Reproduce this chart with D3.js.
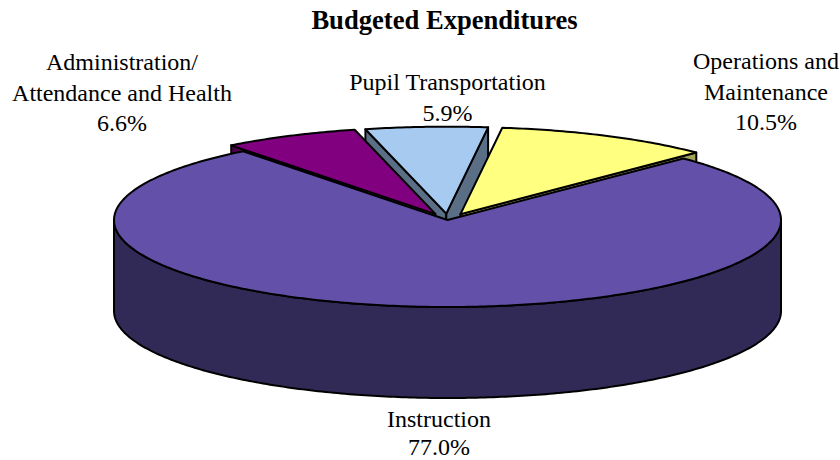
<!DOCTYPE html>
<html>
<head>
<meta charset="utf-8">
<script src="https://cdn.jsdelivr.net/npm/d3@7"></script>
<style>
  html, body { margin: 0; padding: 0; background: #fff; }
  text { font-family: "Liberation Serif", serif; fill: #000; }
</style>
</head>
<body>
<script>
'use strict';
// values
const categories = ["Instruction", "Administration/Attendance and Health", "Pupil Transportation", "Operations and Maintenance"];
const values = [77.0, 6.6, 5.9, 10.5];
const valueLabels = ["77.0%", "6.6%", "5.9%", "10.5%"];
const labelLines = [["Instruction"], ["Administration/", "Attendance and Health"], ["Pupil Transportation"], ["Operations and", "Maintenance"]];
const topColors = ["#6350a8", "#800080", "#a6caf0", "#ffff80"];
const sideColors = ["#322a56", "#4c004c", "#5a6e85", "#a3a35c"];
const titleText = "Budgeted Expenditures";

const width = 840, height = 460;
const cx = 448, cy = 218, rx = 333.5, ry = 87, depth = 91;
const explodeX = 0.085, explodeY = 0.05, explodeBig = 0.023;
// label centre x, first baseline, line spacing
const labelAnchors = [[439, 426.5, 28.5], [122, 70, 30.5], [447.5, 90, 30.5], [766, 69, 30.5]];

const svg = d3.select("body").append("svg")
    .attr("width", width)
    .attr("height", height)
    .style("display", "block");

const toRad = d3.scaleLinear().domain([0, 360]).range([0, 2 * Math.PI]);

const pie = d3.pie()
    .sort(null)
    .startAngle(toRad(45))
    .endAngle(toRad(405));

const slices = pie(values).map(function(d, i) {
    const mid = (d.startAngle + d.endAngle) / 2;
    // every slice is pulled out along its middle, the big one only a little
    return {
        i: i,
        a0: d.startAngle,
        a1: d.endAngle,
        ox: cx + (i === 0 ? explodeBig : explodeX) * rx * Math.sin(mid),
        oy: cy - (i === 0 ? explodeBig : explodeY) * ry * Math.cos(mid)
    };
});

const line = d3.line().curve(d3.curveLinear);

function rim(s, a0, a1, dy) {
    const n = Math.max(2, Math.ceil(Math.abs(a1 - a0) * 80));
    return d3.range(n + 1).map(function(k) {
        const a = a0 + (a1 - a0) * k / n;
        return [s.ox + rx * Math.sin(a), s.oy - ry * Math.cos(a) + dy];
    });
}

function wedge(s) {
    return line([[s.ox, s.oy]].concat(rim(s, s.a0, s.a1, 0))) + "Z";
}

function cutFace(s, a) {
    const p = [s.ox + rx * Math.sin(a), s.oy - ry * Math.cos(a)];
    return line([[s.ox, s.oy], p, [p[0], p[1] + depth], [s.ox, s.oy + depth]]) + "Z";
}

function drawShape(d, fill) {
    svg.append("path")
        .attr("d", d)
        .attr("fill", fill)
        .attr("stroke", "#000")
        .attr("stroke-width", 2)
        .attr("stroke-linejoin", "round");
}

// back slices first: only the cut faces that look at the viewer
const backs = slices.slice(1);
drawShape(cutFace(backs[0], backs[0].a0), sideColors[1]);
drawShape(cutFace(backs[1], backs[1].a0), sideColors[2]);
drawShape(cutFace(backs[1], backs[1].a1), sideColors[2]);
drawShape(cutFace(backs[2], backs[2].a1), sideColors[3]);
backs.forEach(function(s) {
    drawShape(wedge(s), topColors[s.i]);
});

// big slice: front wall then top
const big = slices[0];
const frontA = toRad(90), frontB = toRad(270);
drawShape(line(rim(big, frontA, frontB, 0).concat(rim(big, frontB, frontA, depth))) + "Z", sideColors[0]);
drawShape(wedge(big), topColors[0]);

// title
svg.append("text")
    .attr("x", 444.5)
    .attr("y", 29)
    .attr("text-anchor", "middle")
    .attr("font-size", 26.6)
    .attr("font-weight", "bold")
    .text(titleText);

// labels
categories.forEach(function(c, i) {
    const t = svg.append("text")
        .attr("text-anchor", "middle")
        .attr("font-size", 24);
    labelLines[i].concat([valueLabels[i]]).forEach(function(str, k) {
        t.append("tspan")
            .attr("x", labelAnchors[i][0])
            .attr("y", labelAnchors[i][1] + k * labelAnchors[i][2])
            .text(str);
    });
});
</script>
</body>
</html>
